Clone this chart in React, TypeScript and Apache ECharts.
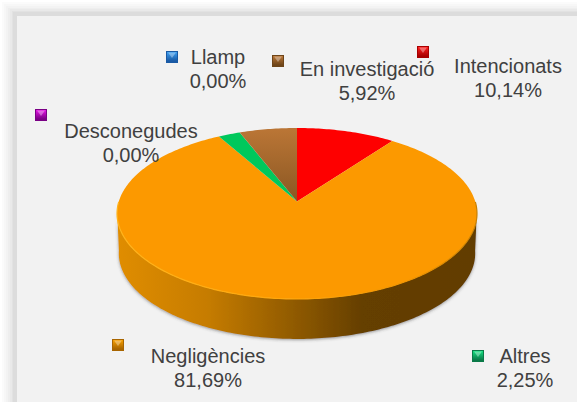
import React, { useEffect, useRef } from "react";
import * as echarts from "echarts";

const categories = ["Intencionats", "Negligències", "Altres", "En investigació", "Desconegudes", "Llamp"];
const values = [10.14, 81.69, 2.25, 5.92, 0.0, 0.0];

// Layout, separate from the data
const labelCenter = [[508, 78], [208, 368], [525, 368], [367, 81], [131, 143], [218, 69]];
const markerAt = [[417, 46], [112, 339], [472, 350], [272, 55], [35, 109], [166, 51]];
const markerColors = [
  ["#ff2020", "#a80000"], ["#f7a000", "#a86500"], ["#14e080", "#0a7a48"],
  ["#bb7636", "#6e4519"], ["#e414e4", "#7a0085"], ["#3d9ff0", "#1a5aa5"],
];
const CX = 297, CY = 201.5, A = 178.2, B = 83.8, K = 0.14, DEPTH = 40;

function project(deg: number, dy = 0): number[] {
  const t = (deg * Math.PI) / 180;
  const u = Math.sin(t), v = Math.cos(t);
  const d = 1 + K * v;
  return [CX + (A * u) / d, CY - (B * v) / d + dy];
}
function rim(start: number, end: number, keep?: (deg: number) => boolean): number[][] {
  const pts: number[][] = [];
  const n = Math.max(1, Math.ceil(end - start));
  for (let i = 0; i <= n; i++) {
    const deg = start + ((end - start) * i) / n;
    if (!keep || keep(deg)) pts.push(project(deg));
  }
  return pts;
}
const total = values.reduce((a, b) => a + b, 0);
const startDeg = (i: number) => (values.slice(0, i).reduce((a, b) => a + b, 0) / total) * 360;

const fills: any[] = [
  "#fe0000",
  "#fc9900",
  "#00c85c",
  new echarts.graphic.LinearGradient(0, 0, 0, 1, [
    { offset: 0, color: "#bb7636" },
    { offset: 1, color: "#8a5722" },
  ]),
  "#d010d0",
  "#3a9ae8",
];

const frameSteps = [
  [0, 0, "#ffffff"], [2, 2, "#fbfbfb"], [4, 4, "#f7f7f7"], [6, 6, "#f3f3f3"],
  [8, 8, "#eeeeee"], [10, 9, "#e9e9e9"], [12, 11, "#e2e2e2"], [13, 12, "#dcdcdc"],
];

export default function App() {
  const ref = useRef<HTMLDivElement>(null);
  useEffect(() => {
    const chart = echarts.init(ref.current!, undefined, { renderer: "svg" });
    const seriesData = values.map((v, i) => [i, v]);
    const wall = {
      type: "custom",
      coordinateSystem: "none",
      silent: true,
      z: 1,
      data: seriesData,
      renderItem: (_: any, api: any) => {
        const i = api.value(0);
        const s = startDeg(i), e = s + (api.value(1) / total) * 360;
        const top = rim(s, e, (d) => Math.cos((d * Math.PI) / 180) < -0.1);
        if (top.length < 2) return { type: "group", children: [] };
        const bottom = top.map((p) => [CX + (p[0] - CX) * 0.99, p[1] + DEPTH]).reverse();
        return {
          type: "polygon",
          shape: { points: top.concat(bottom) },
          style: {
            fill: new echarts.graphic.LinearGradient(0, 0, 1, 0, [
              { offset: 0, color: "#e08d00" },
              { offset: 0.25, color: "#c67c00" },
              { offset: 0.5, color: "#8e5900" },
              { offset: 0.68, color: "#653f00" },
              { offset: 1, color: "#623c00" },
            ]),
            shadowColor: "rgba(60,60,60,0.5)",
            shadowBlur: 3,
            shadowOffsetY: 1,
          },
        };
      },
    };
    const top = {
      type: "custom",
      coordinateSystem: "none",
      silent: true,
      z: 2,
      data: seriesData,
      renderItem: (_: any, api: any) => {
        const i = api.value(0);
        const s = startDeg(i), e = s + (api.value(1) / total) * 360;
        if (e <= s) return { type: "group", children: [] };
        const arc = rim(s, e);
        const edge = rim(s, e, (d) => Math.cos((d * Math.PI) / 180) < 0);
        const children: any[] = [
          { type: "polygon", shape: { points: [[CX, CY], ...arc] }, style: { fill: fills[i] } },
        ];
        if (edge.length > 1) {
          children.push({
            type: "polyline",
            shape: { points: edge },
            style: {
              fill: "none",
              lineWidth: 1.2,
              stroke: new echarts.graphic.LinearGradient(0, 0, 1, 0, [
                { offset: 0, color: "#ffb31a" },
                { offset: 0.5, color: "#ffa50a" },
                { offset: 0.8, color: "#f09400" },
                { offset: 1, color: "#c88000" },
              ]),
            },
          });
        }
        return { type: "group", children };
      },
    };
    const frame = [
      ...frameSteps.map(([x, y, fill]: any) => ({
        type: "rect",
        shape: { x, y, width: 577 - x, height: 402 - y },
        style: { fill },
        z: -5,
      })),
      { type: "rect", shape: { x: 17, y: 16, width: 560, height: 386 }, style: { fill: "#f2f2f2" }, z: -5 },
    ];
    const markers = markerAt.flatMap(([x, y], i) => [
      { type: "rect", shape: { x, y, width: 12, height: 12 }, style: { fill: markerColors[i][1] }, z: 5 },
      {
        type: "rect",
        shape: { x: x + 1, y: y + 1, width: 10, height: 9 },
        style: {
          fill: new echarts.graphic.LinearGradient(0, 0, 0, 1, [
            { offset: 0, color: markerColors[i][0] },
            { offset: 1, color: markerColors[i][1] },
          ]),
        },
        z: 5,
      },
      {
        type: "polygon",
        shape: { points: [[x + 2, y + 1.5], [x + 10, y + 1.5], [x + 6, y + 7]] },
        style: { fill: "rgba(255,255,255,0.35)" },
        z: 5,
      },
    ]);
    const labels = categories.map((c, i) => ({
      type: "text",
      x: labelCenter[i][0],
      y: labelCenter[i][1],
      z: 6,
      style: {
        text: `${c}\n${values[i].toFixed(2).replace(".", ",")}%`,
        fontFamily: "Liberation Sans",
        fontSize: 20,
        lineHeight: 24,
        fill: "#404040",
        align: "center",
        verticalAlign: "middle",
      },
    }));
    chart.setOption({
      animation: false,
      backgroundColor: "#f2f2f2",
      series: [wall, top],
      graphic: { elements: [...frame, ...markers, ...labels] },
    });
    return () => chart.dispose();
  }, []);
  return (
    <div
      ref={ref}
      style={{ position: "fixed", left: 0, top: 0, width: 577, height: 402 }}
    />
  );
}
